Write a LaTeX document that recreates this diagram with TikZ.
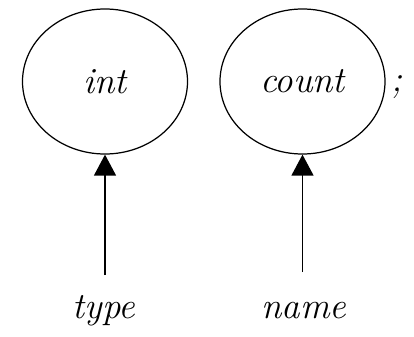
\documentclass[tikz,border=0pt]{standalone}
\usetikzlibrary{arrows.meta,shapes.geometric}

\tikzset{
    bubble/.style={draw,ellipse,line width=0.7pt,inner sep=0pt,
        minimum width=3.3cm,minimum height=2.9cm},
    word/.style={font=\fontsize{21}{25}\selectfont\itshape},
    pointer/.style={line width=0.8pt,-{Triangle[width=0.44cm,length=0.42cm]}}
}

\begin{document}
\begin{tikzpicture}
    \useasboundingbox (0,0) rectangle (8.28,-6.72);
    % the two parts of the declaration
    \node[bubble,word] (int) at (2.1,-1.63) {int};
    \node[bubble,word] (count) at (6.05,-1.63) {count};
    \node[word,anchor=west] (semi) at (7.7,-1.75) {;};
    % what each part is
    \node[word] (type) at (2.08,-6.22) {type};
    \node[word] (name) at (6.08,-6.22) {name};
    \coordinate (typeend) at (2.1,-5.5);
    \coordinate (nameend) at (6.05,-5.44);
    \draw[pointer] (typeend) -- (int.south);
    \draw[pointer] (nameend) -- (count.south);
\end{tikzpicture}
\end{document}
